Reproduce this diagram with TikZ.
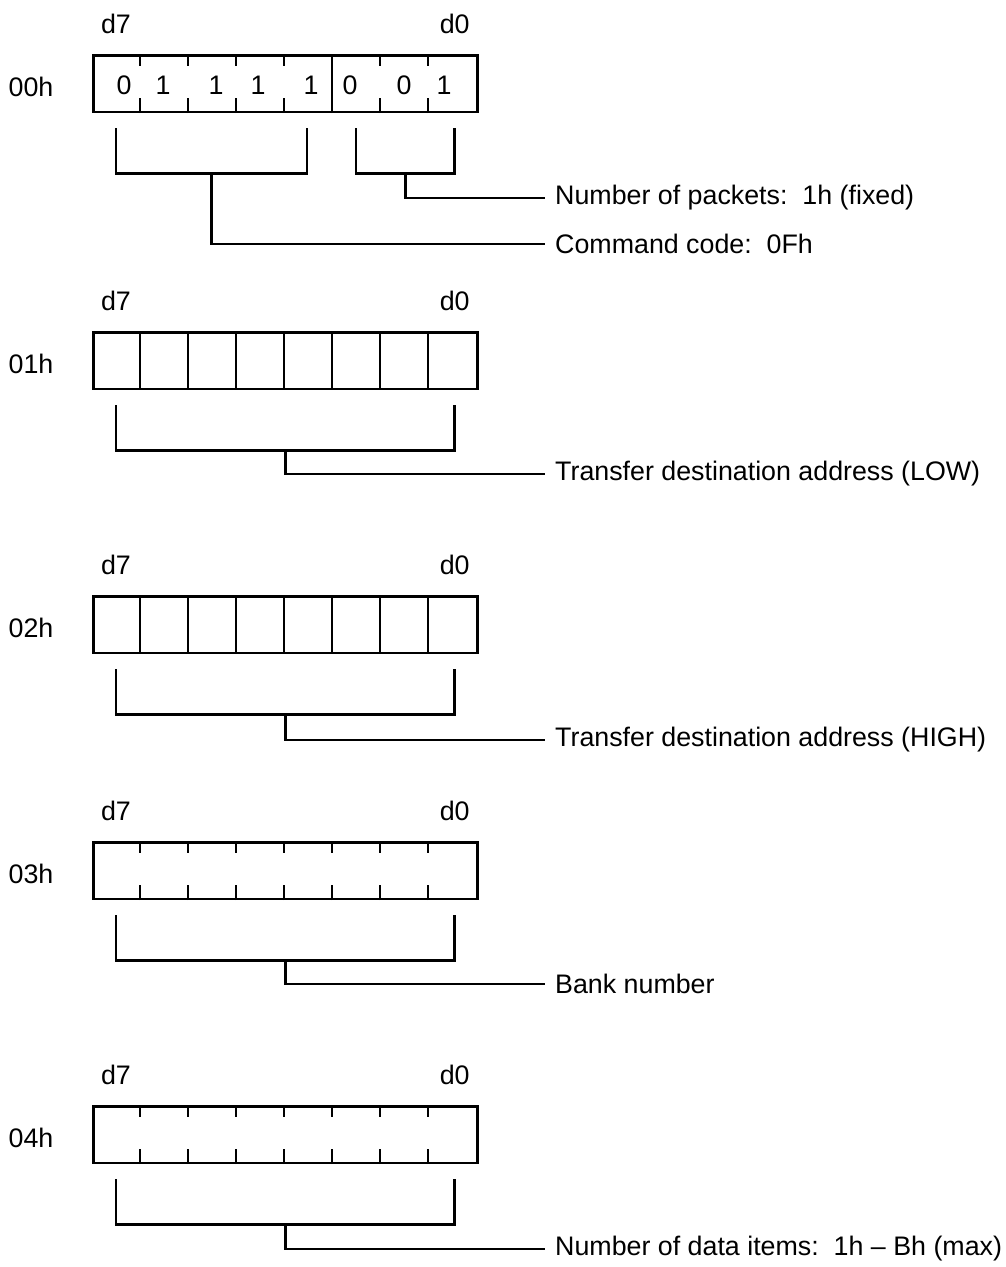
\documentclass[tikz,border=0pt]{standalone}
\usepackage{fontspec}
\setmainfont{Liberation Sans}
\usetikzlibrary{calc}
\tikzset{
  regline/.style={line width=2.7pt},
  regtext/.style={font=\fontsize{26.8}{31}\selectfont, inner sep=0pt},
  regbox/.style={draw, regline, anchor=north west, minimum width=384pt, minimum height=56.5pt, inner sep=0pt},
  fieldlabel/.style={regtext, anchor=west, inner xsep=10pt},
}

\begin{document}
\begin{tikzpicture}[x=1pt,y=-1pt]
\useasboundingbox (0,0) rectangle (1006,1267);
% register boxes with bit headings
\foreach \reg/\top in {00h/54,01h/331,02h/595,03h/841,04h/1105}{
  \node[regbox] (box\reg) at (92,\top) {};
  \node[regtext] (d7\reg) at ($(box\reg.north west)+(24,-30.5)$) {d7};
  \node[regtext] (d0\reg) at ($(box\reg.north east)+(-24,-30.5)$) {d0};
  \node[regtext] (addr\reg) at ($(box\reg.west)+(-61,3.5)$) {\reg};
}
% full dividers
\foreach \reg in {01h,02h}
  \foreach \i in {1,...,7}
    \draw[regline] ($(box\reg.north west)+(48*\i,0)$) -- ($(box\reg.south west)+(48*\i,0)$);
% short ticks
\foreach \reg in {00h,03h,04h}
  \foreach \i in {1,...,7}{
    \draw[regline] ($(box\reg.north west)+(48*\i,0)$) -- ++(0,12);
    \draw[regline] ($(box\reg.south west)+(48*\i,0)$) -- ++(0,-15);
  }
\draw[regline] ($(box00h.north west)+(240,0)$) -- ($(box00h.south west)+(240,0)$);
% bit values of 00h
\foreach \v/\x in {0/124,1/163,1/216,1/258,1/311,0/350,0/404,1/444}
  \node[regtext] (bit\x) at (\x,85) {\v};

% field labels
\node[fieldlabel] (lblpkt) at (545,198) {Number of packets:\ \ 1h (fixed)};
\node[fieldlabel] (lblcmd) at (545,244) {Command code:\ \ 0Fh};
\node[fieldlabel] (lbl01h) at (545,474) {Transfer destination address (LOW)};
\node[fieldlabel] (lbl02h) at (545,740) {Transfer destination address (HIGH)};
\node[fieldlabel] (lbl03h) at (545,984) {Bank number};
\node[fieldlabel] (lbl04h) at (545,1249) {Number of data items:\ \ 1h -- Bh (max)};

% brackets of 00h
\coordinate (cmdl) at ($(box00h.south west)+(24,15)$);
\coordinate (cmdr) at ($(box00h.south west)+(215,15)$);
\coordinate (pktl) at ($(box00h.south west)+(264,15)$);
\coordinate (pktr) at ($(box00h.south east)+(-24,15)$);
\draw[regline] (cmdl) -- ++(0,45) -| (cmdr);
\draw[regline] (pktl) -- ++(0,45) -| (pktr);
\draw[regline] ($(cmdl)!0.5!(cmdr)+(0,45)$) |- (lblcmd.west);
\draw[regline] ($(pktl)!0.5!(pktr)+(0,45)$) |- (lblpkt.west);

% brackets of the other registers
\foreach \reg in {01h,02h,03h,04h}{
  \coordinate (bl\reg) at ($(box\reg.south west)+(24,15)$);
  \coordinate (br\reg) at ($(box\reg.south east)+(-24,15)$);
  \draw[regline] (bl\reg) -- ++(0,45) -| (br\reg);
  \draw[regline] ($(bl\reg)!0.5!(br\reg)+(0,45)$) |- (lbl\reg.west);
}
\end{tikzpicture}
\end{document}
